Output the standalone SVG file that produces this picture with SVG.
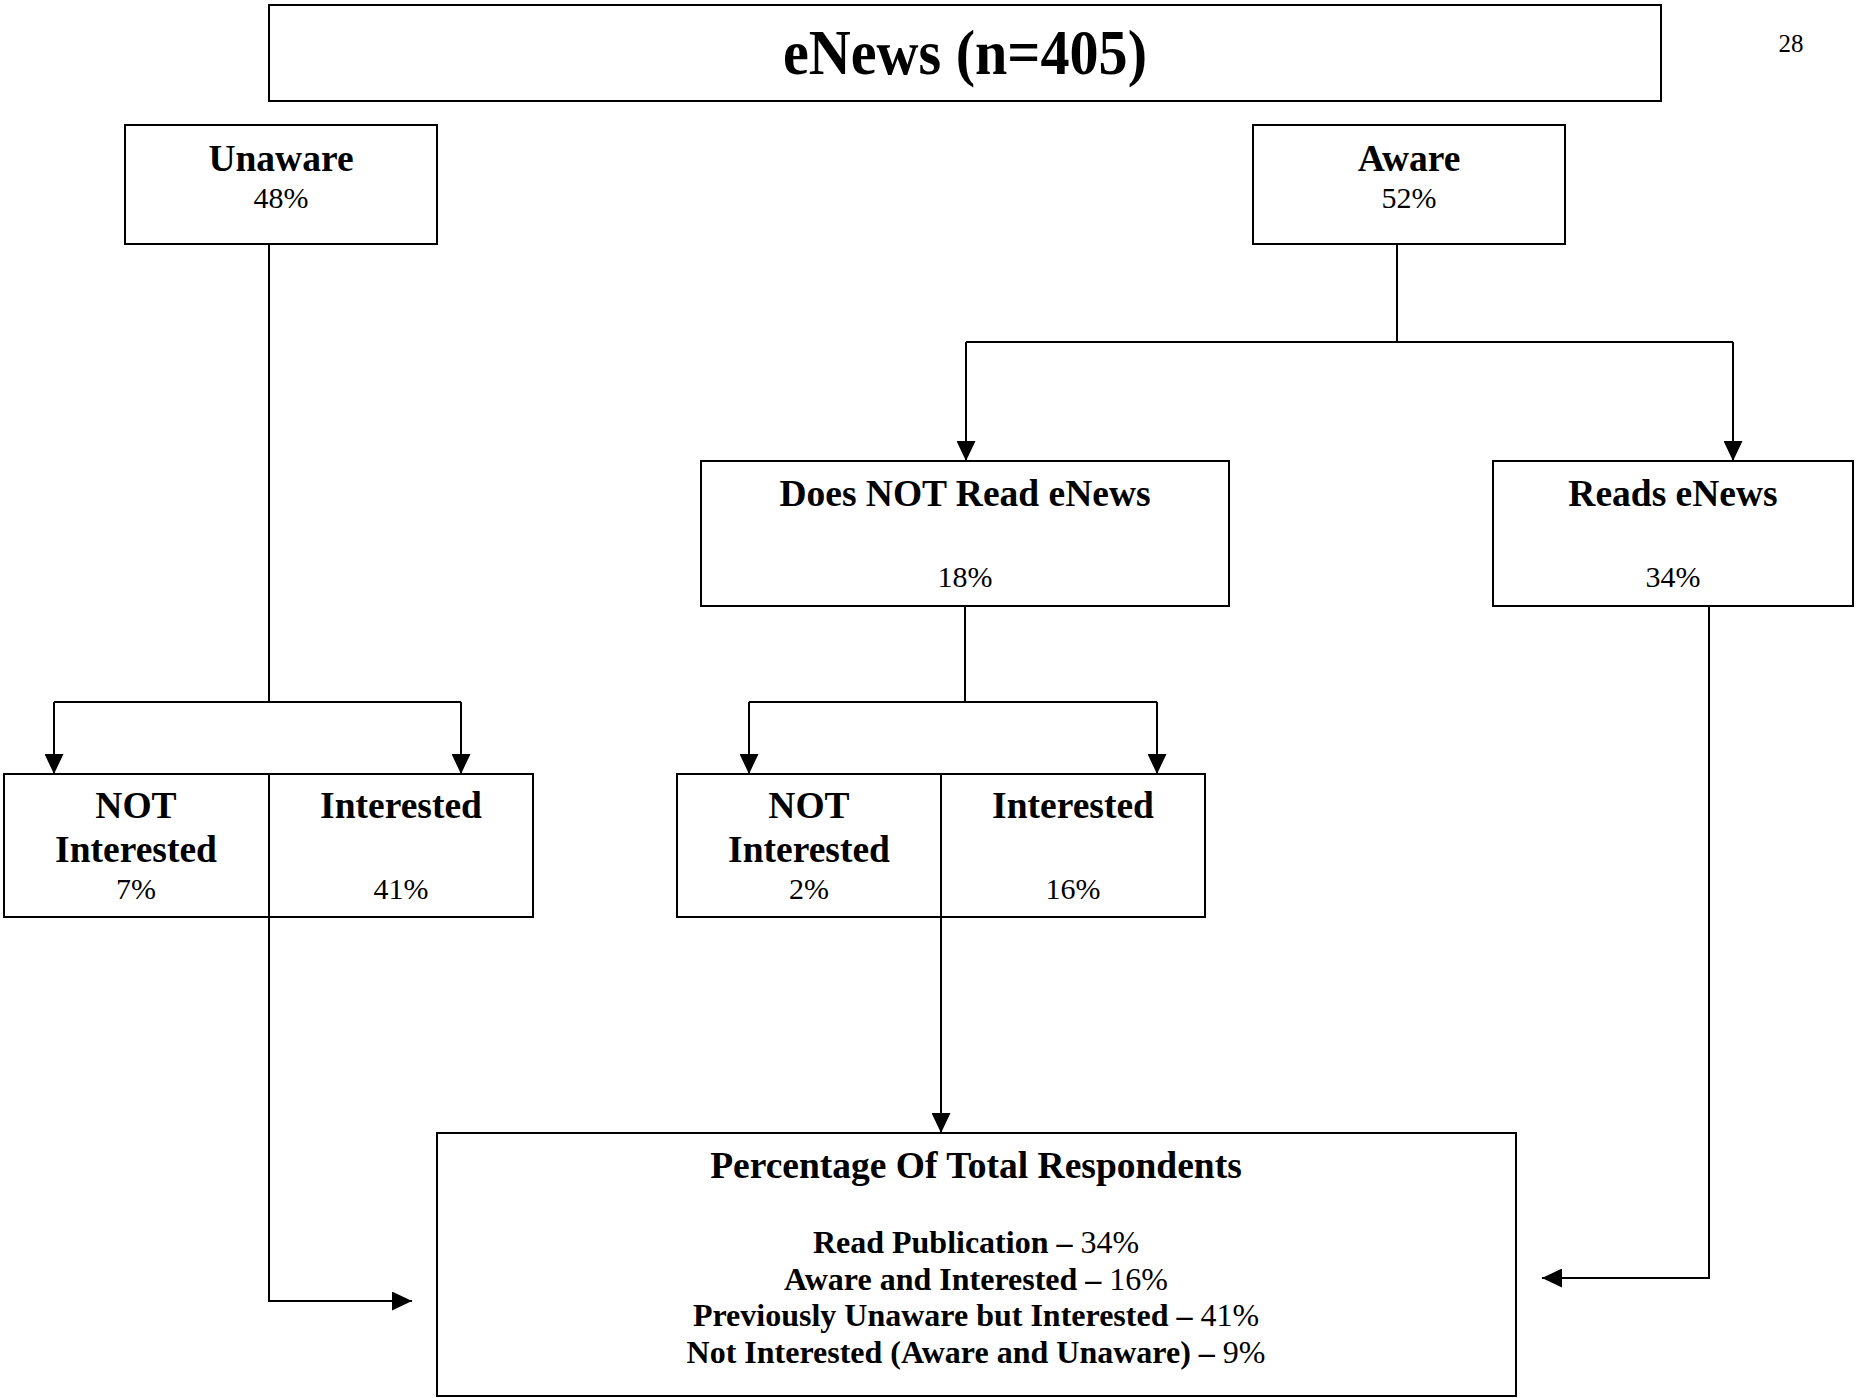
<svg xmlns="http://www.w3.org/2000/svg" width="1860" height="1398" viewBox="0 0 1860 1398">
<style>
.box{fill:#fff;stroke:#000;stroke-width:2}
.ln{fill:none;stroke:#000;stroke-width:2}
text{font-family:"Liberation Serif","Times New Roman",serif;fill:#000;text-anchor:middle}
.h{font-weight:bold;font-size:37.5px}
.p{font-size:30px}
.l{font-size:32px}
.b{font-weight:bold}
.r{font-weight:normal}
</style>
<defs>
<marker id="arr" markerUnits="userSpaceOnUse" markerWidth="20" markerHeight="19" refX="20" refY="9.5" orient="auto">
<path d="M0,0 L20,9.5 L0,19 Z" fill="#000"/>
</marker>
</defs>
<rect width="1860" height="1398" fill="#fff"/>
<g id="connectors">
<path class="ln" d="M269 244 V702 M54 702 H461"/>
<path class="ln" d="M54 702 V774" marker-end="url(#arr)"/>
<path class="ln" d="M461 702 V774" marker-end="url(#arr)"/>
<path class="ln" d="M1397 244 V342 M966 342 H1733"/>
<path class="ln" d="M966 342 V461" marker-end="url(#arr)"/>
<path class="ln" d="M1733 342 V461" marker-end="url(#arr)"/>
<path class="ln" d="M965 606 V702 M749 702 H1157"/>
<path class="ln" d="M749 702 V774" marker-end="url(#arr)"/>
<path class="ln" d="M1157 702 V774" marker-end="url(#arr)"/>
<path class="ln" d="M269 917 V1301 H412" marker-end="url(#arr)"/>
<path class="ln" d="M941 917 V1133" marker-end="url(#arr)"/>
<path class="ln" d="M1709 606 V1278 H1542" marker-end="url(#arr)"/>
</g>
<g id="title">
<rect class="box" x="269" y="5" width="1392" height="96"/>
<text x="965" y="74" font-weight="bold" font-size="64" textLength="364" lengthAdjust="spacingAndGlyphs">eNews (n=405)</text>
</g>
<g id="page-number">
<text x="1791" y="52" font-size="25">28</text>
</g>
<g id="unaware">
<rect class="box" x="125" y="125" width="312" height="119"/>
<text class="h" x="281" y="171">Unaware</text>
<text class="p" x="281" y="208">48%</text>
</g>
<g id="aware">
<rect class="box" x="1253" y="125" width="312" height="119"/>
<text class="h" x="1409" y="171">Aware</text>
<text class="p" x="1409" y="208">52%</text>
</g>
<g id="does-not-read">
<rect class="box" x="701" y="461" width="528" height="145"/>
<text class="h" x="965" y="506">Does NOT Read eNews</text>
<text class="p" x="965" y="587">18%</text>
</g>
<g id="reads">
<rect class="box" x="1493" y="461" width="360" height="145"/>
<text class="h" x="1673" y="506">Reads eNews</text>
<text class="p" x="1673" y="587">34%</text>
</g>
<g id="unaware-interest">
<rect class="box" x="4" y="774" width="529" height="143"/>
<line class="ln" x1="269" y1="774" x2="269" y2="917"/>
<text class="h" x="136" y="818">NOT</text>
<text class="h" x="136" y="862">Interested</text>
<text class="p" x="136" y="899">7%</text>
<text class="h" x="401" y="818">Interested</text>
<text class="p" x="401" y="899">41%</text>
</g>
<g id="aware-interest">
<rect class="box" x="677" y="774" width="528" height="143"/>
<line class="ln" x1="941" y1="774" x2="941" y2="917"/>
<text class="h" x="809" y="818">NOT</text>
<text class="h" x="809" y="862">Interested</text>
<text class="p" x="809" y="899">2%</text>
<text class="h" x="1073" y="818">Interested</text>
<text class="p" x="1073" y="899">16%</text>
</g>
<g id="summary">
<rect class="box" x="437" y="1133" width="1079" height="263"/>
<text class="h" x="976" y="1178">Percentage Of Total Respondents</text>
<text class="l" x="976" y="1253"><tspan class="b">Read Publication –</tspan><tspan class="r"> 34%</tspan></text>
<text class="l" x="976" y="1290"><tspan class="b">Aware and Interested –</tspan><tspan class="r"> 16%</tspan></text>
<text class="l" x="976" y="1326"><tspan class="b">Previously Unaware but Interested –</tspan><tspan class="r"> 41%</tspan></text>
<text class="l" x="976" y="1363"><tspan class="b">Not Interested (Aware and Unaware) –</tspan><tspan class="r"> 9%</tspan></text>
</g>
</svg>
